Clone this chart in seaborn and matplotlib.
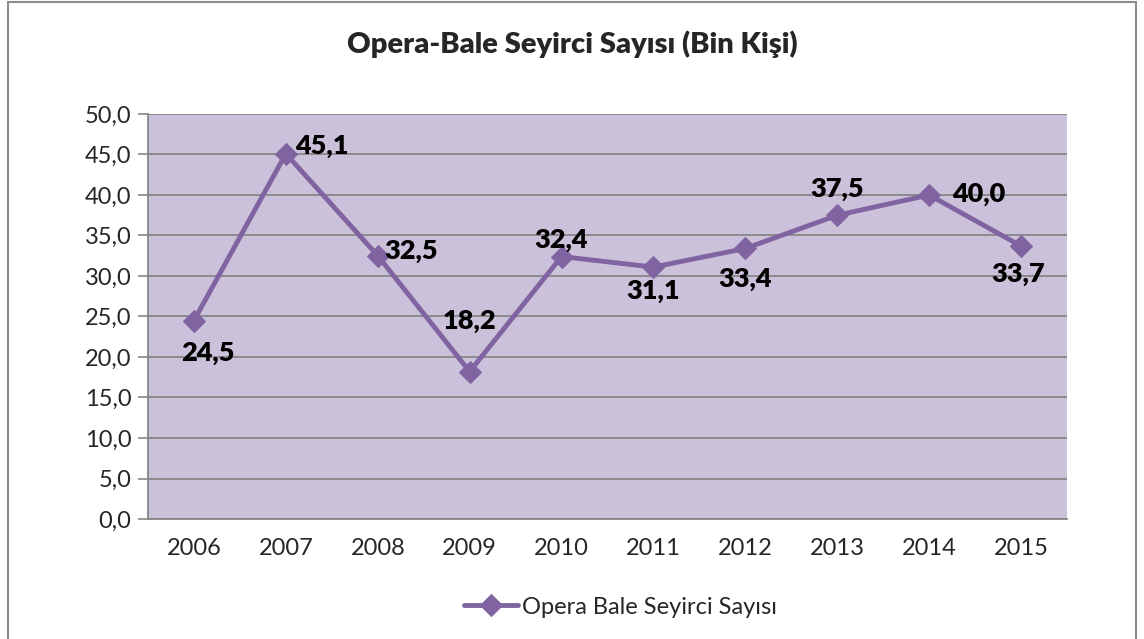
import matplotlib
matplotlib.use("Agg")
import matplotlib.pyplot as plt
import seaborn as sns
import pandas as pd
from matplotlib.patches import Rectangle

years = ["2006", "2007", "2008", "2009", "2010", "2011", "2012", "2013", "2014", "2015"]
values = [24.5, 45.1, 32.5, 18.2, 32.4, 31.1, 33.4, 37.5, 40.0, 33.7]
series_name = "Opera Bale Seyirci Sayısı"
title = "Opera-Bale Seyirci Sayısı (Bin Kişi)"

# label placement style (offset of label centre from point, in pixels)
label_offsets_px = [(14, -30), (36, 10), (33, 7), (0, 53), (0, 19), (0, -22), (0, -28), (0, 28), (50, 3), (-3, -26)]

sns.set_theme(style="white")
plt.rcParams['font.family'] = ['Lato', 'DejaVu Sans']

df = pd.DataFrame({"x": range(len(years)), "y": values, "s": series_name})

fig = plt.figure(figsize=(11.44, 6.39), dpi=100)
fig.patch.set_facecolor("white")
fig.add_artist(Rectangle((8/1144, -0.05), (1136-8)/1144, 1.05 - 1.5/639, transform=fig.transFigure,
                         fill=False, edgecolor="#8c8c8c", linewidth=1.5))

ax = fig.add_axes([148/1144, 1-519/639, (1067-148)/1144, (519-114)/639])
ax.set_facecolor("#ccc1da")
color = "#8064a2"
sns.lineplot(data=df, x="x", y="y", hue="s", palette=[color], marker="D", markersize=11,
             linewidth=3.5, markeredgecolor=color, ax=ax)

ax.set_xlim(-0.5, len(years) - 0.5)
ax.set_ylim(0, 50)
ax.set_yticks([i * 5 for i in range(11)])
ax.set_yticklabels([f"{i*5:.1f}".replace(".", ",") for i in range(11)], fontsize=17)
ax.set_xticks(range(len(years)))
ax.set_xticklabels(years, fontsize=17)
ax.set_xticks([i - 0.5 for i in range(len(years) + 1)], minor=True)
ax.tick_params(axis="x", which="major", length=0, pad=14)
ax.tick_params(axis="x", which="minor", length=7, width=1.2, color="#868686", direction="out")
ax.tick_params(axis="y", which="major", length=7, width=1.2, color="#868686", direction="out", left=True, pad=5)
ax.grid(axis="y", color="#868686", linewidth=1.3)
ax.set_axisbelow(True)
for side in ["top", "right"]:
    ax.spines[side].set_visible(False)
for side in ["left", "bottom"]:
    ax.spines[side].set_color("#868686")
    ax.spines[side].set_linewidth(1.3)
ax.set_xlabel("")
ax.set_ylabel("")

lab_fs = 19.5
for i, (v, (dx, dy)) in enumerate(zip(values, label_offsets_px)):
    txt = f"{v:.1f}".replace(".", ",")
    ax.annotate(txt, (i, v), xytext=(dx * 0.72, dy * 0.72), textcoords="offset points",
                ha="center", va="center_baseline", fontsize=lab_fs, fontweight="heavy", color="black")

fig.text(572/1144, 1-44/639, title, ha="center", va="center", fontsize=21, fontweight="heavy")

leg = ax.legend(loc="center", bbox_to_anchor=(0.5 + 13/919, (1-607/639 - (1-519/639)) / ((519-114)/639)),
                frameon=False, fontsize=17, handlelength=2.3, handletextpad=0.15)

fig.savefig("out.png", dpi=100, facecolor="white")
